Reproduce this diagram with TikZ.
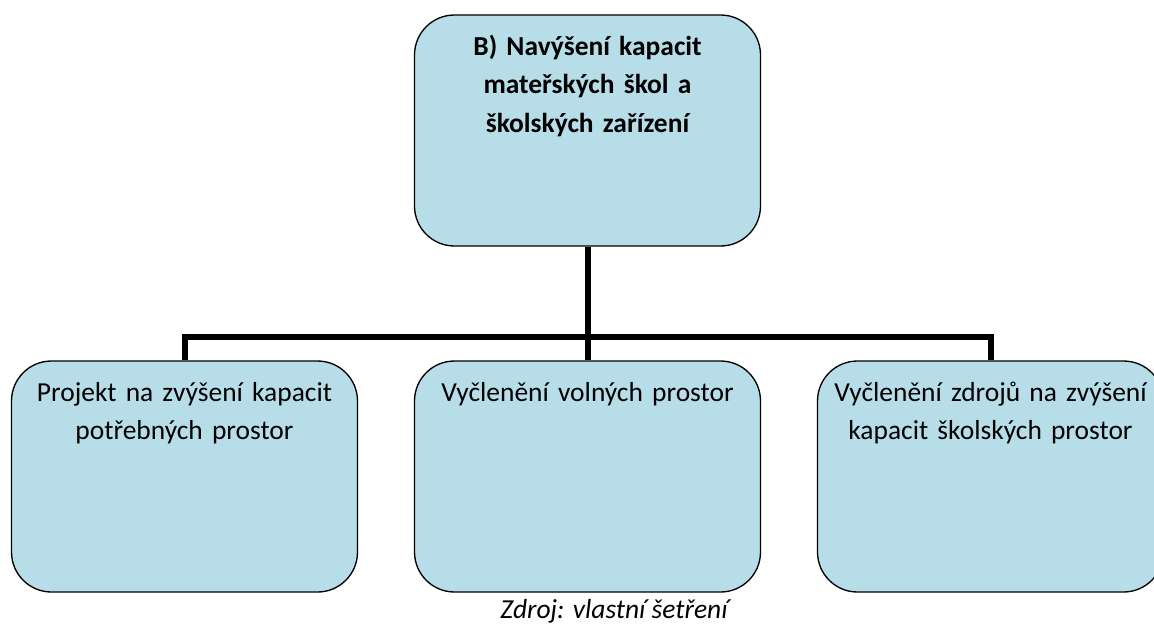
\documentclass[tikz,border=0pt]{standalone}
\usepackage{fontspec}
\setmainfont{Carlito}
\usetikzlibrary{positioning}

\definecolor{boxblue}{RGB}{183,222,232}

\tikzset{
	box/.style={draw, line width=1pt, fill=boxblue, rounded corners=30pt,
		minimum width=259.5pt, text width=257pt, align=center,
		inner xsep=0pt, inner ysep=0pt, text height=30pt, text depth=143.25pt,
		font=\fontsize{20.6}{29}\selectfont},
	link/.style={line width=4.5pt}
}

\begin{document}
\begin{tikzpicture}[x=0.75pt, y=-0.75pt, node distance=302.25pt]
	\clip (0,0) rectangle (1154,626);

	\node[box, font=\bfseries\fontsize{20.6}{29}\selectfont] (goal) at (587.5,130.5)
		{B) Navýšení kapacit\\ mateřských škol a\\ školských zařízení};
	\node[box]  (free)  at (587.5,476.5)  {Vyčlenění volných prostor};
	\node[box]  (proj)  [left of=free]    {Projekt na zvýšení kapacit\\ potřebných prostor};
	\node[box]  (funds) [right of=free]   {Vyčlenění zdrojů na zvýšení\\ kapacit školských prostor};

	\coordinate (fork) at (587.5,337);

	\draw[link] (goal.south) -- (fork);
	\draw[link] (proj.north) |- (fork) -| (funds.north);
	\draw[link] (fork) -- (free.north);

	\node[font=\itshape\fontsize{20.6}{29}\selectfont] (src) at (614,611) {Zdroj: vlastní šetření};
\end{tikzpicture}
\end{document}
